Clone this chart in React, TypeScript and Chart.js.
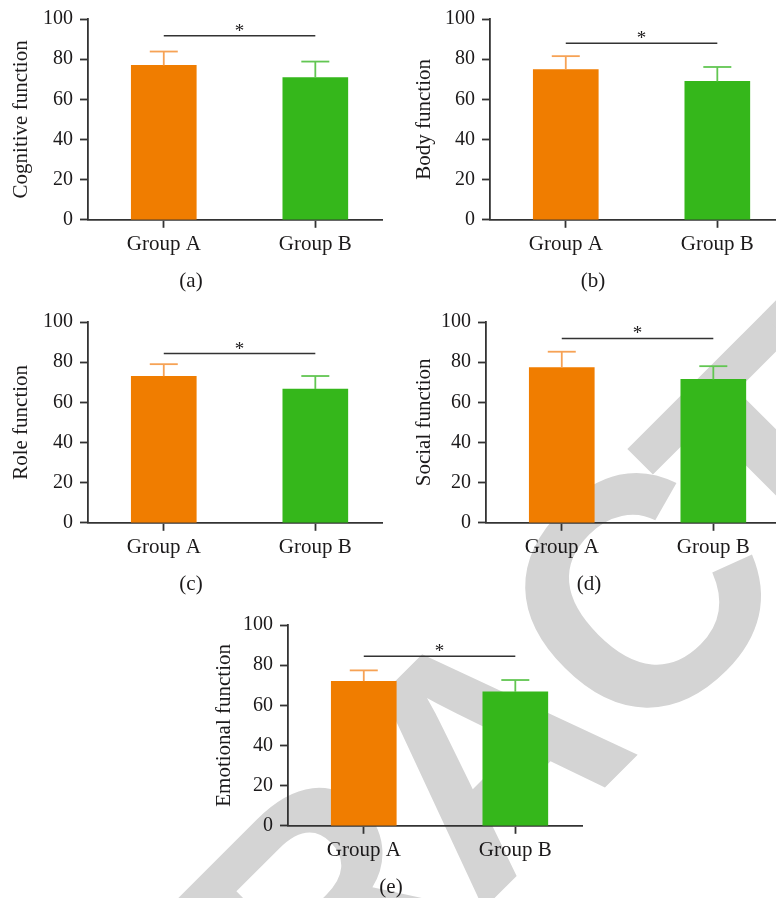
import React, { useEffect, useRef } from 'react';
import { Chart, registerables } from 'chart.js';

Chart.register(...registerables);

// ---------- data ----------
const groups = ['Group A', 'Group B'];
const groupPositions = [0, 1];
const yTicks = [0, 20, 40, 60, 80, 100];
const panelLabels = ['(a)', '(b)', '(c)', '(d)', '(e)'];
const yTitles = ['Cognitive function', 'Body function', 'Role function', 'Social function', 'Emotional function'];

const cognitiveMeans = [76.9, 70.8];
const cognitiveSD = [6.9, 8.0];
const bodyMeans = [74.8, 68.9];
const bodySD = [6.7, 7.2];
const roleMeans = [73.0, 66.6];
const roleSD = [6.0, 6.5];
const socialMeans = [77.3, 71.4];
const socialSD = [7.9, 6.6];
const emotionalMeans = [72.0, 66.7];
const emotionalSD = [5.4, 5.9];

const allMeans = [cognitiveMeans, bodyMeans, roleMeans, socialMeans, emotionalMeans];
const allSD = [cognitiveSD, bodySD, roleSD, socialSD, emotionalSD];
const sigLevels = [91.6, 87.9, 84.3, 91.8, 84.4];
const sigMarks = ['*', '*', '*', '*', '*'];
const watermarkText = 'RETRACTED';

// ---------- layout / style ----------
const FONT = '"Liberation Serif", "Times New Roman", serif';
const TEXT = '#1c1a1b';
const AXIS = '#333333';
const barColors = ['#F07D00', '#35B71B'];
const errColors = ['#F6A255', '#62C652'];

// canvas left, top, width, distance from y-axis to title center
const panelBoxes = [
  { left: 0, top: 0, width: 394, titleDist: 67 },
  { left: 402, top: 0, width: 396, titleDist: 66 },
  { left: 0, top: 303, width: 396, titleDist: 67 },
  { left: 398, top: 303, width: 399, titleDist: 62 },
  { left: 200, top: 606, width: 398, titleDist: 64 },
];
const CANVAS_H = 294;
const Y_AXIS_W = 88;
const AREA_W = 294;
const X_AXIS_H = 42;

function makeAnnotPlugin(idx: number) {
  return {
    id: 'annot' + idx,
    afterDatasetsDraw(chart: any) {
      const { ctx } = chart;
      const x = chart.scales.x;
      const y = chart.scales.y;
      const means = allMeans[idx];
      const sds = allSD[idx];
      ctx.save();
      means.forEach((m: number, i: number) => {
        const px = x.getPixelForValue(groupPositions[i]);
        const y0 = y.getPixelForValue(m);
        const y1 = y.getPixelForValue(m + sds[i]);
        ctx.strokeStyle = errColors[i];
        ctx.lineWidth = 1.8;
        ctx.beginPath();
        ctx.moveTo(px, y0);
        ctx.lineTo(px, y1);
        ctx.stroke();
        ctx.beginPath();
        ctx.moveTo(px - 14, y1);
        ctx.lineTo(px + 14, y1);
        ctx.stroke();
      });
      const ys = y.getPixelForValue(sigLevels[idx]);
      const xa = x.getPixelForValue(groupPositions[0]);
      const xb = x.getPixelForValue(groupPositions[1]);
      ctx.strokeStyle = AXIS;
      ctx.lineWidth = 1.5;
      ctx.beginPath();
      ctx.moveTo(xa, ys);
      ctx.lineTo(xb, ys);
      ctx.stroke();
      ctx.fillStyle = TEXT;
      ctx.font = '19px ' + FONT;
      ctx.textAlign = 'center';
      ctx.textBaseline = 'alphabetic';
      ctx.fillText(sigMarks[idx], (xa + xb) / 2, ys + 1);
      ctx.restore();
    },
  };
}

function Panel({ idx }: { idx: number }) {
  const ref = useRef<HTMLCanvasElement>(null);
  const box = panelBoxes[idx];
  useEffect(() => {
    const canvas = ref.current!;
    const chart = new Chart(canvas, {
      type: 'bar',
      data: {
        datasets: [
          {
            data: allMeans[idx].map((v, i) => ({ x: groupPositions[i], y: v })),
            backgroundColor: barColors,
            borderWidth: 0,
            barThickness: 65,
          },
        ],
      },
      options: {
        animation: false,
        responsive: false,
        devicePixelRatio: 1,
        layout: {
          padding: { left: 0, top: 16, right: box.width - Y_AXIS_W - AREA_W, bottom: 0 },
        },
        plugins: {
          legend: { display: false },
          tooltip: { enabled: false },
          title: {
            display: true,
            text: panelLabels[idx],
            position: 'bottom',
            color: TEXT,
            font: { family: FONT, size: 21, weight: 'normal', lineHeight: 1.2 },
            padding: { top: 7, bottom: 0 },
          },
        },
        scales: {
          x: {
            type: 'linear',
            min: -0.5,
            max: 1.44,
            offset: false,
            afterBuildTicks: (scale: any) => {
              scale.ticks = groupPositions.map((v) => ({ value: v }));
            },
            afterFit: (scale: any) => {
              scale.height = X_AXIS_H;
            },
            ticks: {
              color: TEXT,
              font: { family: FONT, size: 21, lineHeight: 1.2 },
              padding: 4,
              maxRotation: 0,
              minRotation: 0,
              autoSkip: false,
              callback: (v: any) => groups[groupPositions.indexOf(Number(v))] ?? '',
            },
            grid: {
              display: true,
              offset: false,
              drawOnChartArea: false,
              drawTicks: true,
              tickLength: 8,
              tickColor: AXIS,
              tickWidth: 1.8,
            },
            border: { display: true, color: AXIS, width: 1.8 },
          },
          y: {
            type: 'linear',
            min: yTicks[0],
            max: yTicks[yTicks.length - 1],
            afterBuildTicks: (scale: any) => {
              scale.ticks = yTicks.map((v) => ({ value: v }));
            },
            afterFit: (scale: any) => {
              scale.width = Y_AXIS_W;
            },
            ticks: {
              color: TEXT,
              font: { family: FONT, size: 20 },
              padding: 7,
            },
            grid: {
              display: true,
              drawOnChartArea: false,
              drawTicks: true,
              tickLength: 8,
              tickColor: AXIS,
              tickWidth: 1.8,
            },
            border: { display: true, color: AXIS, width: 1.8 },
            title: {
              display: true,
              text: yTitles[idx],
              color: TEXT,
              font: { family: FONT, size: 21, lineHeight: 1.2 },
              padding: { top: Y_AXIS_W - box.titleDist - 12.6, bottom: 0 },
            },
          },
        },
      },
      plugins: [makeAnnotPlugin(idx)],
    } as any);
    return () => chart.destroy();
  }, []);
  return (
    <canvas
      ref={ref}
      width={box.width}
      height={CANVAS_H}
      style={{ position: 'absolute', left: box.left, top: box.top, width: box.width, height: CANVAS_H }}
    />
  );
}

function Watermark() {
  const ref = useRef<HTMLCanvasElement>(null);
  useEffect(() => {
    const ctx = ref.current!.getContext('2d')!;
    ctx.clearRect(0, 0, 776, 898);
    ctx.save();
    const size = 325;
    ctx.fillStyle = '#d4d4d4';
    ctx.font = 'bold ' + size + 'px "Liberation Sans", Arial, sans-serif';
    ctx.translate(636, 592);
    ctx.rotate(-Math.PI / 4);
    const chars = watermarkText.split('');
    const adv = chars.map((c) => ctx.measureText(c).width);
    const lsAfter = -26;
    const lsBefore = -12;
    const ci = 5;
    const base = (0.716 * size) / 2;
    const xC = -adv[ci] / 2;
    let xx = xC;
    for (let i = ci; i < chars.length; i++) {
      ctx.fillText(chars[i], xx, base);
      xx += adv[i] + lsAfter;
    }
    xx = xC;
    for (let i = ci - 1; i >= 0; i--) {
      xx -= adv[i] + lsBefore;
      ctx.fillText(chars[i], xx, base);
    }
    ctx.restore();
  }, []);
  return <canvas ref={ref} width={776} height={898} style={{ position: 'absolute', left: 0, top: 0 }} />;
}

export default function App() {
  return (
    <div
      style={{
        position: 'absolute',
        left: 0,
        top: 0,
        width: 776,
        height: 898,
        overflow: 'hidden',
        background: '#ffffff',
      }}
    >
      <Watermark />
      {panelLabels.map((_, i) => (
        <Panel key={i} idx={i} />
      ))}
    </div>
  );
}
